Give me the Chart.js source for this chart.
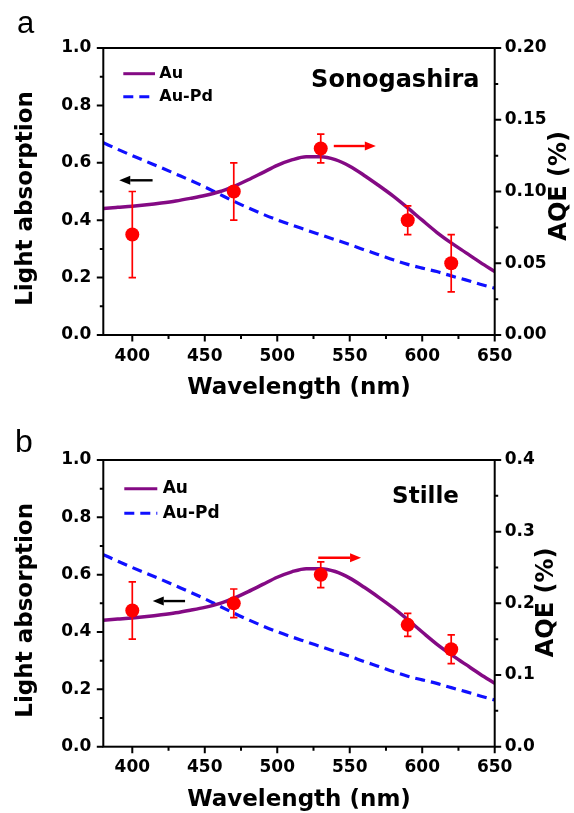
<!DOCTYPE html>
<html>
<head>
<meta charset="utf-8">
<script src="https://cdn.jsdelivr.net/npm/chart.js@4"></script>
<style>
  html, body { margin: 0; padding: 0; background: #fff; overflow: hidden; width: 574px; height: 813px; }
  canvas { display: block; }
</style>
</head>
<body>
<canvas id="panelA" width="574" height="406"></canvas>
<canvas id="panelB" width="574" height="412"></canvas>
<script>
// Absorption spectra (nm -> absorbance)
const wavelengths = [380, 390, 400, 410, 420, 430, 440, 450, 460, 470, 480, 490, 500, 510,
                     520, 530, 540, 550, 560, 570, 580, 590, 600, 610, 620, 630, 640, 650];
const absAu = [0.441, 0.445, 0.449, 0.454, 0.460, 0.467, 0.476, 0.486, 0.499, 0.518, 0.541, 0.566, 0.591, 0.610,
               0.621, 0.621, 0.611, 0.588, 0.556, 0.521, 0.484, 0.443, 0.400, 0.358, 0.321, 0.287, 0.253, 0.221];
const absAuPd = [0.670, 0.647, 0.625, 0.604, 0.583, 0.561, 0.539, 0.516, 0.491, 0.466, 0.443, 0.421, 0.401, 0.383,
                 0.366, 0.349, 0.332, 0.315, 0.297, 0.280, 0.262, 0.246, 0.233, 0.221, 0.206, 0.192, 0.177, 0.163];

// Apparent quantum efficiency (%) at the irradiation wavelengths
const aqeWavelengths = [400, 470, 530, 590, 620];
const aqeSonogashira = [0.07, 0.10, 0.13, 0.08, 0.05];
const aqeSonogashiraErr = [0.03, 0.02, 0.01, 0.01, 0.02];
const aqeStille = [0.19, 0.20, 0.24, 0.17, 0.136];
const aqeStilleErr = [0.04, 0.02, 0.018, 0.016, 0.02];

// Axis ticks
const xTicks = [400, 450, 500, 550, 600, 650];
const xMinorTicks = [425, 475, 525, 575, 625];
const absTicks = [0, 0.2, 0.4, 0.6, 0.8, 1.0];
const absMinorTicks = [0.1, 0.3, 0.5, 0.7, 0.9];
const aqeTicksA = [0, 0.05, 0.10, 0.15, 0.20];
const aqeMinorTicksA = [0.025, 0.075, 0.125, 0.175];
const aqeTicksB = [0, 0.1, 0.2, 0.3, 0.4];
const aqeMinorTicksB = [0.05, 0.15, 0.25, 0.35];

const RED = '#ff0000';
const PURPLE = '#840a84';
const BLUE = '#1010ff';
const FAMILY = "'DejaVu Sans', sans-serif";
const TICK_FONT = { family: FAMILY, size: 17, weight: 'bold' };

// Frame, tick marks, error bars, arrows, legend and labels
const decor = {
  id: 'decor',
  afterDatasetsDraw(chart, args, o) {
    const { ctx, chartArea: a, scales } = chart;
    const x = scales.x, yL = scales.y, yR = scales.y1;
    ctx.save();

    // error bars of the AQE points
    const aqe = chart.data.datasets[0];
    ctx.strokeStyle = RED;
    ctx.lineWidth = 1.7;
    aqe.data.forEach((p, i) => {
      const px = x.getPixelForValue(p.x);
      const t = yR.getPixelForValue(p.y + o.errors[i]);
      const b = yR.getPixelForValue(p.y - o.errors[i]);
      ctx.beginPath();
      ctx.moveTo(px, t); ctx.lineTo(px, b);
      ctx.moveTo(px - 3.7, t); ctx.lineTo(px + 3.7, t);
      ctx.moveTo(px - 3.7, b); ctx.lineTo(px + 3.7, b);
      ctx.stroke();
    });

    // arrows pointing to the relevant axis
    o.arrows.forEach(ar => {
      const x0 = x.getPixelForValue(ar.from[0]), x1 = x.getPixelForValue(ar.to[0]);
      const y0 = yL.getPixelForValue(ar.from[1]);
      const dir = Math.sign(x1 - x0);
      const head = 11;
      ctx.strokeStyle = ar.color; ctx.fillStyle = ar.color;
      ctx.lineWidth = 2.4;
      ctx.beginPath();
      ctx.moveTo(x0, y0); ctx.lineTo(x1 - dir * head, y0);
      ctx.stroke();
      ctx.beginPath();
      ctx.moveTo(x1, y0);
      ctx.lineTo(x1 - dir * head, y0 - 4.5);
      ctx.lineTo(x1 - dir * head, y0 + 4.5);
      ctx.closePath();
      ctx.fill();
    });

    // plot frame
    ctx.strokeStyle = '#000';
    ctx.lineWidth = 2;
    ctx.strokeRect(a.left, a.top, a.width, a.height);

    // outward tick marks
    const tick = (list, len, fn) => list.forEach(v => fn(v, len));
    ctx.beginPath();
    const left = (v, len) => { const py = yL.getPixelForValue(v); ctx.moveTo(a.left, py); ctx.lineTo(a.left - len, py); };
    const right = (v, len) => { const py = yR.getPixelForValue(v); ctx.moveTo(a.right, py); ctx.lineTo(a.right + len, py); };
    const bottom = (v, len) => { const px = x.getPixelForValue(v); ctx.moveTo(px, a.bottom); ctx.lineTo(px, a.bottom + len); };
    tick(absTicks, 6.5, left); tick(absMinorTicks, 3.5, left);
    tick(o.aqeTicks, 6.5, right); tick(o.aqeMinorTicks, 3.5, right);
    tick(xTicks, 6.5, bottom); tick(xMinorTicks, 4, bottom);
    ctx.stroke();

    // axis titles on both sides, reading bottom to top
    ctx.fillStyle = '#000';
    ctx.textAlign = 'center';
    ctx.textBaseline = 'middle';
    const midY = (a.top + a.bottom) / 2;
    ctx.save();
    ctx.translate(o.leftTitleX, midY + o.leftTitleDy);
    ctx.rotate(-Math.PI / 2);
    ctx.font = `bold 23px ${FAMILY}`;
    ctx.fillText('Light absorption', 0, 0);
    ctx.restore();
    ctx.save();
    ctx.translate(o.rightTitleX, midY + o.rightTitleDy);
    ctx.rotate(-Math.PI / 2);
    ctx.font = `bold 24px ${FAMILY}`;
    ctx.fillText('AQE (%)', 0, 0);
    ctx.restore();

    // panel letter
    ctx.textAlign = 'left';
    ctx.textBaseline = 'alphabetic';
    ctx.font = `${o.letterSize}px 'Liberation Sans', Arial, sans-serif`;
    ctx.fillText(o.letter, o.letterX, o.letterY);

    // reaction name
    ctx.textAlign = 'center';
    ctx.font = `bold ${o.nameSize}px ${FAMILY}`;
    ctx.fillText(o.name, o.nameX, o.nameY);

    // legend of the spectra
    ctx.textAlign = 'left';
    ctx.textBaseline = 'middle';
    ctx.font = `bold ${o.legendSize}px ${FAMILY}`;
    chart.data.datasets.slice(1).forEach((ds, i) => {
      const ly = o.legendRows[i];
      ctx.strokeStyle = ds.borderColor;
      ctx.lineWidth = 3;
      ctx.setLineDash(ds.borderDash || []);
      ctx.beginPath();
      ctx.moveTo(o.legendX, ly); ctx.lineTo(o.legendX + o.legendLen, ly);
      ctx.stroke();
      ctx.setLineDash([]);
      ctx.fillStyle = '#000';
      ctx.fillText(ds.label, o.legendX + o.legendLen + o.legendGap, ly);
    });

    ctx.restore();
  }
};

function makePanel(id, p) {
  const setTicks = list => s => { s.ticks = list.map(v => ({ value: v })); };
  return new Chart(document.getElementById(id), {
    type: 'line',
    data: {
      datasets: [
        {
          label: 'AQE',
          data: aqeWavelengths.map((w, i) => ({ x: w, y: p.aqe[i] })),
          yAxisID: 'y1', showLine: false,
          pointRadius: 7, pointHoverRadius: 7, pointBorderWidth: 0,
          pointBackgroundColor: RED, pointBorderColor: RED, backgroundColor: RED, borderColor: RED,
          order: 0
        },
        {
          label: 'Au',
          data: wavelengths.map((w, i) => ({ x: w, y: absAu[i] })),
          yAxisID: 'y', borderColor: PURPLE, borderWidth: 3.5, pointRadius: 0,
          cubicInterpolationMode: 'monotone', fill: false, order: 1
        },
        {
          label: 'Au-Pd',
          data: wavelengths.map((w, i) => ({ x: w, y: absAuPd[i] })),
          yAxisID: 'y', borderColor: BLUE, borderWidth: 3.2, borderDash: [10, 6], pointRadius: 0,
          cubicInterpolationMode: 'monotone', fill: false, order: 2
        }
      ]
    },
    options: {
      responsive: false,
      animation: false,
      devicePixelRatio: 1,
      layout: { padding: { top: p.top, left: 0, right: 0, bottom: 0 } },
      plugins: {
        legend: { display: false },
        tooltip: { enabled: false },
        decor: {
          errors: p.aqeErr, aqeTicks: p.aqeTicks, aqeMinorTicks: p.aqeMinorTicks,
          arrows: p.arrows, letter: p.letter, letterX: p.letterX, letterY: p.letterY, letterSize: p.letterSize,
          name: p.name, nameX: p.nameX, nameY: p.nameY, nameSize: p.nameSize,
          legendX: p.legendX, legendRows: p.legendRows, legendSize: p.legendSize,
          legendLen: p.legendLen, legendGap: p.legendGap,
          leftTitleX: 25.8, leftTitleDy: 7, rightTitleX: p.rightTitleX, rightTitleDy: p.rightTitleDy
        }
      },
      scales: {
        x: {
          type: 'linear', min: 380, max: 650,
          afterBuildTicks: setTicks(xTicks),
          ticks: { font: TICK_FONT, color: '#000', padding: 11, autoSkip: false, maxRotation: 0,
                   callback: v => String(v) },
          grid: { display: false, drawTicks: false },
          border: { display: false },
          title: { display: true, text: 'Wavelength (nm)', color: '#000',
                   font: { family: FAMILY, size: 23, weight: 'bold' }, padding: { top: 0, bottom: 4 } },
          afterFit: s => { s.height = p.xAxisHeight; }
        },
        y: {
          position: 'left', min: 0, max: 1,
          afterBuildTicks: setTicks(absTicks),
          ticks: { font: TICK_FONT, color: '#000', padding: 12, autoSkip: false,
                   callback: v => v.toFixed(1) },
          grid: { display: false, drawTicks: false },
          border: { display: false },
          afterFit: s => { s.width = 103.3; }
        },
        y1: {
          position: 'right', min: 0, max: p.aqeMax,
          afterBuildTicks: setTicks(p.aqeTicks),
          ticks: { font: TICK_FONT, color: '#000', padding: 10, autoSkip: false,
                   callback: v => v.toFixed(p.aqeDigits) },
          grid: { display: false, drawTicks: false },
          border: { display: false },
          afterFit: s => { s.width = 79.3; }
        }
      }
    },
    plugins: [decor]
  });
}

makePanel('panelA', {
  top: 48, xAxisHeight: 71,
  aqe: aqeSonogashira, aqeErr: aqeSonogashiraErr, aqeMax: 0.20, aqeDigits: 2,
  aqeTicks: aqeTicksA, aqeMinorTicks: aqeMinorTicksA,
  arrows: [
    { from: [414, 0.539], to: [391, 0.539], color: '#000' },
    { from: [539, 0.6585], to: [568, 0.6585], color: RED }
  ],
  letter: 'a', letterX: 17, letterY: 32.7, letterSize: 31,
  name: 'Sonogashira', nameX: 395.3, nameY: 87, nameSize: 24,
  legendX: 123.3, legendRows: [73.7, 96.7], legendSize: 16, legendLen: 31.7, legendGap: 4.3,
  rightTitleX: 560, rightTitleDy: -5.7
});

makePanel('panelB', {
  top: 54, xAxisHeight: 71.3,
  aqe: aqeStille, aqeErr: aqeStilleErr, aqeMax: 0.4, aqeDigits: 1,
  aqeTicks: aqeTicksB, aqeMinorTicks: aqeMinorTicksB,
  arrows: [
    { from: [436.4, 0.508], to: [414.1, 0.508], color: '#000' },
    { from: [528.3, 0.659], to: [557.8, 0.659], color: RED }
  ],
  letter: 'b', letterX: 15, letterY: 45.7, letterSize: 32,
  name: 'Stille', nameX: 425.5, nameY: 97.3, nameSize: 23,
  legendX: 124.3, legendRows: [82.7, 107.3], legendSize: 17, legendLen: 33, legendGap: 5.4,
  rightTitleX: 546.7, rightTitleDy: -1
});
</script>
</body>
</html>
